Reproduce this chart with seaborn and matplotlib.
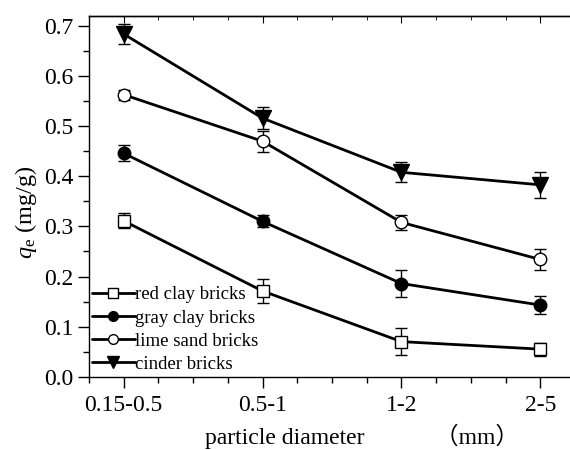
import matplotlib
matplotlib.use("Agg")
import matplotlib.pyplot as plt
import seaborn as sns
import pandas as pd
import numpy as np
from matplotlib.ticker import MultipleLocator

categories = ["0.15-0.5", "0.5-1", "1-2", "2-5"]
series_names = ["red clay bricks", "gray clay bricks", "lime sand bricks", "cinder bricks"]
red_clay = [0.311, 0.171, 0.070, 0.055]
red_clay_err = [0.015, 0.024, 0.027, 0.013]
gray_clay = [0.446, 0.310, 0.186, 0.143]
gray_clay_err = [0.016, 0.012, 0.026, 0.018]
lime_sand = [0.563, 0.470, 0.308, 0.234]
lime_sand_err = [0.010, 0.021, 0.015, 0.021]
cinder = [0.684, 0.516, 0.408, 0.383]
cinder_err = [0.020, 0.022, 0.020, 0.026]

values = [red_clay, gray_clay, lime_sand, cinder]
errors = [red_clay_err, gray_clay_err, lime_sand_err, cinder_err]
markers = ["s", "o", "o", "v"]
facecolors = ["white", "black", "white", "black"]

rows = []
for name, vals, errs in zip(series_names, values, errors):
    for c, v, e in zip(categories, vals, errs):
        rows.append({"cat": c, "qe": v, "err": e, "series": name})
df = pd.DataFrame(rows)

sns.set_style("ticks")
plt.rcParams["font.family"] = ["Liberation Serif", "Noto Sans CJK SC"]
plt.rcParams["mathtext.fontset"] = "custom"
plt.rcParams["mathtext.rm"] = "Liberation Serif"
plt.rcParams["mathtext.it"] = "Liberation Serif:italic"
plt.rcParams["text.color"] = "black"
plt.rcParams["axes.labelcolor"] = "black"
plt.rcParams["xtick.color"] = "black"
plt.rcParams["ytick.color"] = "black"

fig = plt.figure(figsize=(5.7, 4.5), dpi=100)
ax = fig.add_axes([89 / 570, 1 - 376.7 / 450, (575 - 89) / 570, (376.7 - 16) / 450])

pos = {c: i for i, c in enumerate(categories)}
for name, m, fc in zip(series_names, markers, facecolors):
    sub = df[df["series"] == name]
    xs = sub["cat"].map(pos).to_numpy()
    ax.errorbar(xs, sub["qe"], yerr=sub["err"], fmt="none", ecolor="black",
                elinewidth=1.0, capsize=4, capthick=1.0, zorder=2)
    sns.lineplot(x=xs, y=sub["qe"].to_numpy(), ax=ax, color="black", linewidth=2.0,
                 marker=m, markersize=9 if m != "v" else 11, markerfacecolor=fc,
                 markeredgecolor="black", markeredgewidth=1.0, label=name, zorder=3)

ax.set_xlim(-0.25, 3.25)
ax.set_ylim(0, 0.72)
ax.set_xticks(range(len(categories)))
ax.set_xticklabels(categories)
ax.xaxis.set_minor_locator(MultipleLocator(0.25))
ax.yaxis.set_major_locator(MultipleLocator(0.1))
ax.yaxis.set_minor_locator(MultipleLocator(0.05))
ax.yaxis.set_major_formatter(matplotlib.ticker.FormatStrFormatter("%.1f"))

for s in ["left", "bottom", "top", "right"]:
    ax.spines[s].set_linewidth(1.0)
    ax.spines[s].set_color("black")

ax.tick_params(axis="both", which="major", direction="out", length=8, width=1.0,
               labelsize=17, colors="black", pad=3)
ax.tick_params(axis="both", which="minor", direction="out", length=4, width=1.0)
ax.tick_params(axis="x", which="major", pad=5)
sec = ax.secondary_xaxis("top")
sec.set_xticks(range(len(categories)))
sec.xaxis.set_minor_locator(MultipleLocator(0.25))
sec.tick_params(which="major", direction="in", length=5, labeltop=False)
sec.tick_params(which="minor", direction="in", length=3)
sec.spines["top"].set_linewidth(1.0)

ax.set_xlabel("particle diameter            （mm）", fontsize=17)
ax.xaxis.set_label_coords((362 - 89) / 486, 1 - (436 - 16) / 360.7)
ax.xaxis.label.set_verticalalignment("center")
ax.set_ylabel(r"$q_{\mathrm{e}}$ (mg/g)", fontsize=17.5)
ax.yaxis.set_label_coords((26 - 89) / 486, 1 - (212 - 16) / 360.7)
ax.yaxis.label.set_verticalalignment("center")

leg = ax.legend(loc="lower left", frameon=False, fontsize=13.5, handlelength=2.3,
                handletextpad=0.0, labelspacing=0.32, borderaxespad=0.0,
                bbox_to_anchor=(-0.01, -0.01))
for h, m in zip(leg.legend_handles, markers):
    h.set_markersize(8 if m == "v" else 7)

fig.savefig("out.png", dpi=100)
